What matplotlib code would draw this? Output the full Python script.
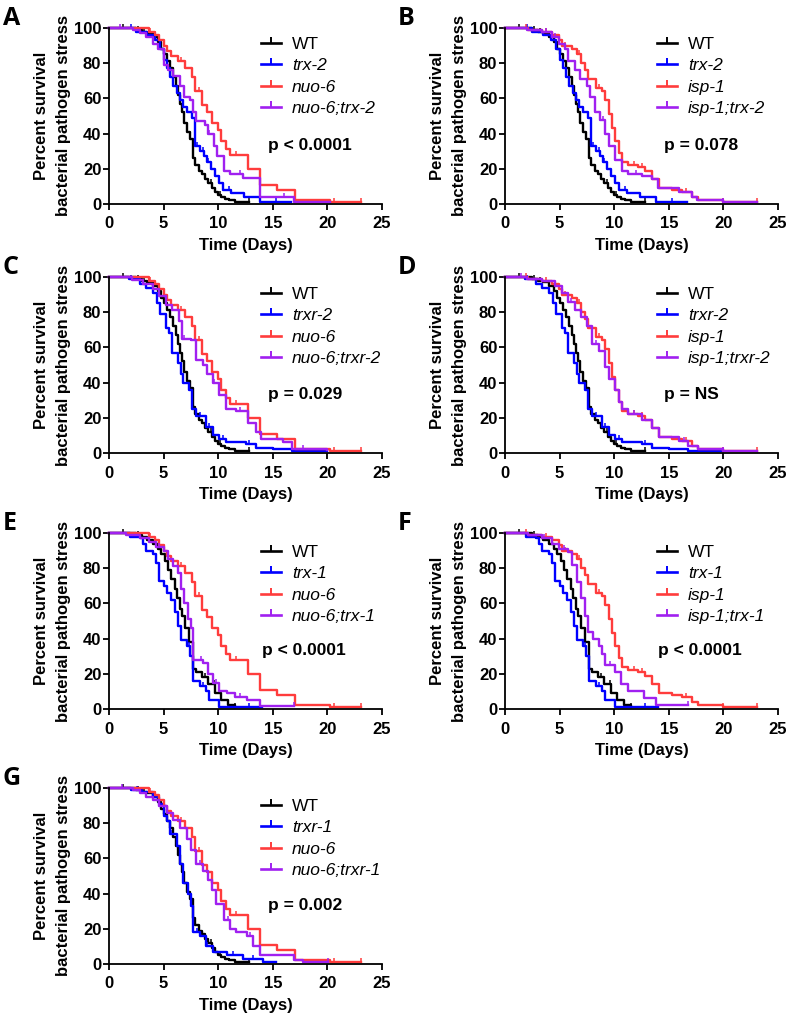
import numpy as np
import matplotlib
matplotlib.use('Agg')
import matplotlib.pyplot as plt
from matplotlib.lines import Line2D

plt.rcParams['font.family'] = ['Liberation Sans', 'DejaVu Sans']

# Kaplan-Meier curves: time (days) and percent surviving
# (step drawn after each time), plus a few censored times per strain
wt_t = [0, 2.5, 3.0, 3.5, 4.0, 4.5, 4.8, 5.0, 5.3, 5.6, 5.9, 6.1, 6.3, 6.5, 6.7, 6.9,
        7.1, 7.4, 7.7, 7.9, 8.2, 8.5, 8.8, 9.1, 9.4, 9.7, 10.0, 10.3, 10.6, 11.0, 11.5, 12.8]
wt_s = [100, 99, 98, 97, 95, 92, 88, 85, 81, 77, 72, 67, 62, 57, 52, 46,
        41, 37, 26, 22, 19, 17, 14, 12, 9, 7, 5, 4, 3, 2, 1, 1]
wt_c = [1.3, 2.7, 3.2, 9.3, 10.2, 12.8]

wt2_t = [0, 2.5, 3.0, 3.5, 4.0, 4.5, 4.8, 5.1, 5.4, 5.7, 6.0, 6.2, 6.5, 6.7, 7.0, 7.3,
         7.7, 8.0, 8.5, 9.1, 9.7, 10.3, 10.9, 11.5]
wt2_s = [100, 99, 98, 96, 94, 91, 88, 84, 79, 74, 68, 63, 57, 53, 46, 38,
         23, 21, 18, 14, 9, 5, 2, 1]
wt2_c = [1.3, 2.7, 8.8, 9.6, 11.5]

nuo6_t = [0, 3.7, 4.2, 4.6, 5.0, 5.3, 5.7, 6.3, 7.0, 7.6, 7.9, 8.5, 9.0, 9.4, 10.0, 10.3,
          10.7, 11.1, 12.7, 13.8, 15.4, 17.0, 20.2, 23.1]
nuo6_s = [100, 98, 96, 93, 90, 87, 84, 81, 77, 72, 64, 56, 52, 46, 42, 36,
          31, 28, 20, 11, 8, 2, 1, 1]
nuo6_c = [3.8, 6.6, 8.2, 11.6, 20.6, 23.1]

isp1_t = [0, 2.1, 3.4, 4.3, 4.9, 5.2, 6.1, 6.6, 7.0, 7.3, 7.6, 8.3, 8.9, 9.2, 9.5, 9.8,
          10.1, 10.4, 10.7, 11.3, 12.2, 12.8, 13.5, 14.1, 15.3, 16.2, 17.1, 17.7, 20.0, 23.1]
isp1_s = [100, 99, 98, 96, 93, 90, 88, 85, 80, 76, 71, 66, 64, 59, 51, 43,
          36, 29, 24, 22, 21, 19, 14, 9, 8, 7, 4, 2, 1.3, 1.3]
isp1_c = [1.9, 3.8, 5.5, 6.8, 8.6, 11.8, 12.5, 16.6, 20.0, 23.1]

trx2_t = [0, 2.5, 3.5, 4.2, 4.7, 5.0, 5.3, 5.6, 5.9, 6.2, 6.5, 6.8, 7.1, 7.6, 7.9, 8.3,
          8.7, 9.0, 9.3, 9.7, 10.1, 10.4, 11.2, 12.4, 13.8, 16.7]
trx2_s = [100, 98, 96, 93, 88, 82, 77, 72, 67, 63, 59, 55, 52, 49, 33, 30,
          27, 24, 20, 16, 12, 8, 6.5, 4, 1.3, 1.3]
trx2_c = [2.0, 8.1, 8.6, 9.1, 11.0, 15.3]

trxr2_t = [0, 1.8, 2.8, 3.4, 4.0, 4.4, 4.7, 5.2, 5.5, 5.8, 6.3, 6.6, 6.8, 7.3, 7.6, 8.0,
           8.9, 9.5, 10.1, 10.7, 12.5, 13.5, 15.0, 16.8, 20.0]
trxr2_s = [100, 99, 96, 94, 91, 85, 79, 71, 68, 57, 51, 45, 40, 36, 25, 21,
           15, 10, 8, 6, 5, 3, 2, 1, 1]
trxr2_c = [2.0, 8.3, 9.2, 10.4, 12.8]

trx1_t = [0, 1.9, 2.8, 3.1, 3.4, 4.0, 4.3, 4.6, 5.0, 5.3, 5.7, 6.0, 6.3, 6.6, 7.1, 7.4,
          7.7, 8.3, 8.9, 9.2, 10.1, 14.0]
trx1_s = [100, 98, 97, 94, 90, 88, 83, 73, 70, 66, 62, 55, 47, 39, 36, 30,
          16, 13, 10, 5, 1, 1]
trx1_c = [2.1, 7.3, 8.6, 12.8]

trxr1_t = [0, 2.0, 3.0, 4.0, 4.6, 5.0, 5.3, 5.6, 6.2, 6.5, 6.8, 7.2, 7.5, 7.7, 8.3, 8.9,
           9.5, 10.8, 12.3, 14.1, 15.3]
trxr1_s = [100, 99, 98, 95, 91, 84, 81, 74, 67, 57, 46, 40, 33, 18, 16, 10,
           7, 5, 3, 1, 1]
trxr1_c = [2.6, 5.7, 8.1, 9.0, 11.4, 13.2]

nuo6_trx2_t = [0, 2.2, 2.8, 3.4, 4.0, 4.5, 5.0, 5.4, 5.9, 6.5, 6.9, 7.4, 7.7, 8.0, 8.8, 9.1,
               9.6, 9.9, 10.5, 11.1, 12.3, 13.8, 16.9, 20.2]
nuo6_trx2_s = [100, 99, 97, 95, 91, 88, 79, 76, 73, 67, 61, 59, 52, 47, 45, 40,
               33, 27, 19, 17, 15, 4, 1, 1]
nuo6_trx2_c = [1.0, 9.2, 12.0, 16.0]

isp1_trx2_t = [0, 2.0, 3.4, 4.3, 4.9, 5.5, 5.8, 6.4, 6.9, 7.5, 7.8, 8.2, 8.7, 9.2, 9.5, 10.1,
               10.7, 11.3, 12.5, 13.5, 14.0, 15.9, 17.1, 17.6, 20.0, 23.1]
isp1_trx2_s = [100, 99, 98, 95, 91, 88, 81, 76, 71, 67, 61, 52, 48, 40, 33, 25,
               19, 17, 16, 14, 9, 7, 4, 2, 1.3, 1.3]
isp1_trx2_c = [3.8, 4.6, 9.0, 12.0, 20.0]

nuo6_trxr2_t = [0, 2.1, 3.1, 4.0, 4.6, 5.2, 5.8, 6.4, 6.7, 7.5, 8.0, 8.6, 9.0, 9.5, 10.1, 10.7,
                11.6, 12.7, 13.5, 13.9, 15.9, 16.8, 20.0]
nuo6_trxr2_s = [100, 98.5, 96, 93, 89, 84, 81, 75, 65, 64, 53, 50, 45, 40, 33, 25,
                24, 17, 12, 8, 6, 2, 1.5]
nuo6_trxr2_c = [6.9, 9.6, 12.0, 17.8]

isp1_trxr2_t = [0, 2.0, 3.4, 4.6, 5.2, 5.8, 6.4, 7.0, 7.5, 8.0, 8.6, 9.2, 9.5, 10.1, 10.4, 10.7,
                11.3, 12.5, 13.5, 14.1, 15.9, 16.8, 17.7, 20.0, 23.1]
isp1_trxr2_s = [100, 99, 98, 95, 91, 86, 81, 77, 72, 62, 58, 49, 42, 36, 29, 25,
                22, 19, 14, 9, 7, 4, 2, 1.3, 1.3]
isp1_trxr2_c = [1.5, 6.0, 8.3, 11.8, 16.4, 20.0]

nuo6_trx1_t = [0, 1.6, 2.8, 3.7, 4.3, 5.0, 5.4, 5.9, 6.3, 6.6, 6.9, 7.2, 7.5, 7.7, 8.6, 9.1,
               9.5, 10.1, 10.8, 11.5, 12.6, 13.8, 16.9]
nuo6_trx1_s = [100, 99, 97, 95, 92, 90, 85, 81, 77, 68, 60, 51, 46, 28, 26, 20,
               15, 10, 9, 7, 5, 1.5, 1.5]
nuo6_trx1_c = [4.6, 8.4, 9.8, 12.0, 16.9]

isp1_trx1_t = [0, 2.1, 3.4, 4.3, 4.9, 5.8, 6.1, 6.6, 7.0, 7.3, 7.6, 8.1, 8.6, 8.9, 9.2, 10.1,
               10.6, 11.3, 12.7, 13.8, 16.8]
isp1_trx1_s = [100, 99, 97, 94, 91, 89, 82, 72, 63, 53, 44, 40, 36, 31, 25, 21,
               14, 10, 6, 2, 2]
isp1_trx1_c = [3.6, 5.4, 9.6, 16.8]

nuo6_trxr1_t = [0, 2.2, 2.8, 3.4, 4.0, 4.6, 5.3, 5.9, 6.5, 7.1, 7.5, 8.0, 8.6, 9.1, 9.4, 9.8,
                10.5, 11.1, 11.6, 12.6, 13.2, 13.8, 16.9, 17.8, 20.1]
nuo6_trxr1_s = [100, 99, 97, 95, 93, 90, 86, 82, 77, 71, 65, 57, 53, 48, 42, 34,
                25, 20, 18, 16, 10, 5, 2, 1, 1]
nuo6_trxr1_c = [1.2, 8.3, 10.9, 12.9, 20.1]

curves = {
    'WT': (wt_t, wt_s, wt_c),
    'WT2': (wt2_t, wt2_s, wt2_c),
    'nuo-6': (nuo6_t, nuo6_s, nuo6_c),
    'isp-1': (isp1_t, isp1_s, isp1_c),
    'trx-2': (trx2_t, trx2_s, trx2_c),
    'trxr-2': (trxr2_t, trxr2_s, trxr2_c),
    'trx-1': (trx1_t, trx1_s, trx1_c),
    'trxr-1': (trxr1_t, trxr1_s, trxr1_c),
    'nuo-6;trx-2': (nuo6_trx2_t, nuo6_trx2_s, nuo6_trx2_c),
    'isp-1;trx-2': (isp1_trx2_t, isp1_trx2_s, isp1_trx2_c),
    'nuo-6;trxr-2': (nuo6_trxr2_t, nuo6_trxr2_s, nuo6_trxr2_c),
    'isp-1;trxr-2': (isp1_trxr2_t, isp1_trxr2_s, isp1_trxr2_c),
    'nuo-6;trx-1': (nuo6_trx1_t, nuo6_trx1_s, nuo6_trx1_c),
    'isp-1;trx-1': (isp1_trx1_t, isp1_trx1_s, isp1_trx1_c),
    'nuo-6;trxr-1': (nuo6_trxr1_t, nuo6_trxr1_s, nuo6_trxr1_c),
}

panel_letters = ['A', 'B', 'C', 'D', 'E', 'F', 'G']
panel_wt = ['WT', 'WT', 'WT', 'WT', 'WT2', 'WT2', 'WT']
panel_redox = ['trx-2', 'trx-2', 'trxr-2', 'trxr-2', 'trx-1', 'trx-1', 'trxr-1']
panel_mito = ['nuo-6', 'isp-1', 'nuo-6', 'isp-1', 'nuo-6', 'isp-1', 'nuo-6']
panel_p = ['p < 0.0001', 'p = 0.078', 'p = 0.029', 'p = NS',
           'p < 0.0001', 'p < 0.0001', 'p = 0.002']

colors = ['#000000', '#0000ff', '#ff3c3c', '#a020f0']

W, H = 790, 1017
fig = plt.figure(figsize=(W / 100, H / 100), dpi=100)

col_left = [109, 505]
row_top = [28, 277, 533, 788]
leg_off = [0, 1, 3, 2]   # legend drop per row, px
ax_w, ax_h = 273, 176


def surv_at(t, s, c):
    idx = np.searchsorted(t, c, side='right') - 1
    return np.asarray(s)[idx]


for i, letter in enumerate(panel_letters):
    r, cidx = divmod(i, 2)
    left, top = col_left[cidx], row_top[r]
    ax = fig.add_axes([left / W, 1 - (top + ax_h) / H, ax_w / W, ax_h / H])

    mito = panel_mito[i]
    redox = panel_redox[i]
    names = [panel_wt[i], redox, mito, mito + ';' + redox]
    labels = ['WT', redox, mito, mito + ';' + redox]
    handles = []
    for name, col, lab in zip(names, colors, labels):
        t, s, c = curves[name]
        ax.step(t, s, where='post', color=col, lw=1.7, clip_on=False)
        ax.plot(c, surv_at(t, s, c), ls='none', marker=2, ms=3.2, mew=1.1,
                color=col, clip_on=False)
        handles.append(Line2D([], [], color=col, lw=1.9, marker=2, ms=4, mew=1.4))

    ax.set_xlim(0, 25)
    ax.set_ylim(0, 100)
    ax.set_xticks([0, 5, 10, 15, 20, 25])
    ax.set_yticks([0, 20, 40, 60, 80, 100])
    for sp in ['top', 'right']:
        ax.spines[sp].set_visible(False)
    for sp in ['left', 'bottom']:
        ax.spines[sp].set_linewidth(1.3)
    ax.tick_params(direction='out', length=4, width=1.3, labelsize=12)
    ax.tick_params(axis='x', pad=5)
    ax.tick_params(axis='y', pad=1.5)
    for lb in ax.get_xticklabels() + ax.get_yticklabels():
        lb.set_fontweight('bold')
    ax.set_xlabel('Time (Days)', fontsize=12, fontweight='bold', labelpad=5)
    ax.set_ylabel('Percent survival\nbacterial pathogen stress', fontsize=12,
                  fontweight='bold', labelpad=2, linespacing=1.6)

    leg = ax.legend(handles, labels, loc='upper left',
                    bbox_to_anchor=(0.555, 0.95 - leg_off[r] / ax_h),
                    frameon=False, fontsize=12.5, numpoints=1, handlelength=1.2,
                    handletextpad=0.6, labelspacing=0.36, borderpad=0, borderaxespad=0)
    for txt in leg.get_texts()[1:]:
        txt.set_fontstyle('italic')

    px = 0.56 if letter in ('E', 'F') else 0.583
    ax.text(px, 0.335, panel_p[i], transform=ax.transAxes, fontsize=12.5,
            fontweight='bold', ha='left', va='center')

    lx = 3 if cidx == 0 else 398
    ly = top - 22
    fig.text(lx / W, 1 - ly / H, letter, family=['Open Sans', 'DejaVu Sans'],
             fontsize=18, fontweight='bold', ha='left', va='top')

fig.savefig('out.png', dpi=100)
